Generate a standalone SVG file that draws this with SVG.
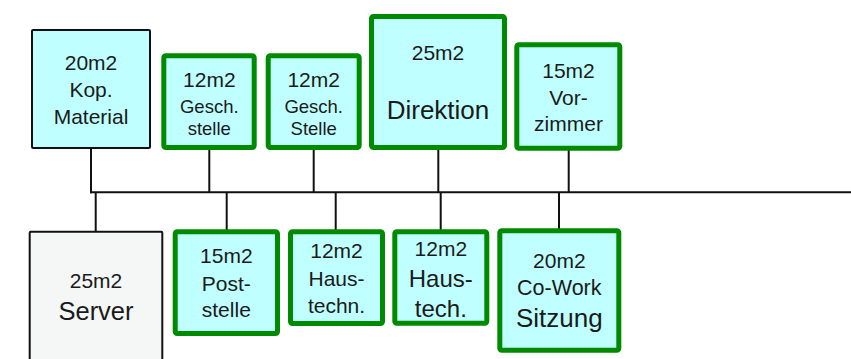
<svg xmlns="http://www.w3.org/2000/svg" width="851" height="359" viewBox="0 0 851 359" font-size="21">
<style>
.g{fill:#c0ffff;stroke:#008a00;stroke-width:5}
.b{fill:#c0ffff;stroke:#111;stroke-width:2}
.s{fill:#f5f6f6;stroke:#111;stroke-width:2}
text{font-family:"Liberation Sans",Arial,sans-serif;fill:#1a1a1a;text-anchor:middle}
.c line{stroke:#111;stroke-width:2;fill:none}
</style>
<rect width="851" height="359" fill="#fff"/>
<g class="c" id="connectors">
<line x1="90" y1="192.3" x2="851" y2="192.3"/>
<line x1="91" y1="149" x2="91" y2="193.3"/>
<line x1="209.3" y1="150" x2="209.3" y2="192.3"/>
<line x1="313.7" y1="150" x2="313.7" y2="192.3"/>
<line x1="438.3" y1="150" x2="438.3" y2="192.3"/>
<line x1="568.7" y1="150" x2="568.7" y2="192.3"/>
<line x1="95.7" y1="192.3" x2="95.7" y2="231"/>
<line x1="226.7" y1="192.3" x2="226.7" y2="230"/>
<line x1="335.7" y1="192.3" x2="335.7" y2="230"/>
<line x1="440.7" y1="192.3" x2="440.7" y2="230"/>
<line x1="559" y1="192.3" x2="559" y2="229"/>
</g>
<g id="kop">
<rect class="b" x="32" y="30" width="118" height="118" rx="1"/>
<text x="91" y="70">20m2</text>
<text x="91" y="97">Kop.</text>
<text x="91" y="124">Material</text>
</g>
<g id="gesch1">
<rect class="g" x="163.8" y="55.8" width="90.4" height="91.7" rx="2"/>
<text x="209.3" y="87.3">12m2</text>
<text x="209.3" y="113.3" font-size="18.5">Gesch.</text>
<text x="209.3" y="134.5" font-size="18.5">stelle</text>
</g>
<g id="gesch2">
<rect class="g" x="268.2" y="55.8" width="91" height="91.7" rx="2"/>
<text x="313.7" y="87.3">12m2</text>
<text x="313.7" y="113.3" font-size="18.5">Gesch.</text>
<text x="313.7" y="134.5" font-size="18.5">Stelle</text>
</g>
<g id="direktion">
<rect class="g" x="371.5" y="16.5" width="133" height="131" rx="2"/>
<text x="438" y="60">25m2</text>
<text x="438" y="118.5" font-size="26">Direktion</text>
</g>
<g id="vorzimmer">
<rect class="g" x="516.8" y="44.8" width="103" height="103.4" rx="2"/>
<text x="568.5" y="77.7">15m2</text>
<text x="568.5" y="105">Vor-</text>
<text x="568.5" y="131">zimmer</text>
</g>
<g id="server">
<rect class="s" x="29.7" y="231.7" width="132.6" height="140" rx="1"/>
<text x="96" y="288.3">25m2</text>
<text x="96" y="320" font-size="25.5">Server</text>
</g>
<g id="poststelle">
<rect class="g" x="175.2" y="231.8" width="102.3" height="101.7" rx="2"/>
<text x="226.3" y="263.3">15m2</text>
<text x="226.3" y="291">Post-</text>
<text x="226.3" y="317.3">stelle</text>
</g>
<g id="haustechn">
<rect class="g" x="290.5" y="231.8" width="92" height="91.7" rx="2"/>
<text x="336.5" y="258.3">12m2</text>
<text x="336.5" y="286">Haus-</text>
<text x="336.5" y="312.7">techn.</text>
</g>
<g id="haustech">
<rect class="g" x="394.8" y="231.8" width="92" height="91.4" rx="2"/>
<text x="440.8" y="256">12m2</text>
<text x="440.8" y="286.7" font-size="24">Haus-</text>
<text x="440.8" y="316.7" font-size="24">tech.</text>
</g>
<g id="cowork">
<rect class="g" x="499.8" y="230.8" width="119" height="119.4" rx="2"/>
<text x="559.3" y="268.3">20m2</text>
<text x="559.3" y="295" font-size="21.5">Co-Work</text>
<text x="559.3" y="326.7" font-size="26">Sitzung</text>
</g>
</svg>
